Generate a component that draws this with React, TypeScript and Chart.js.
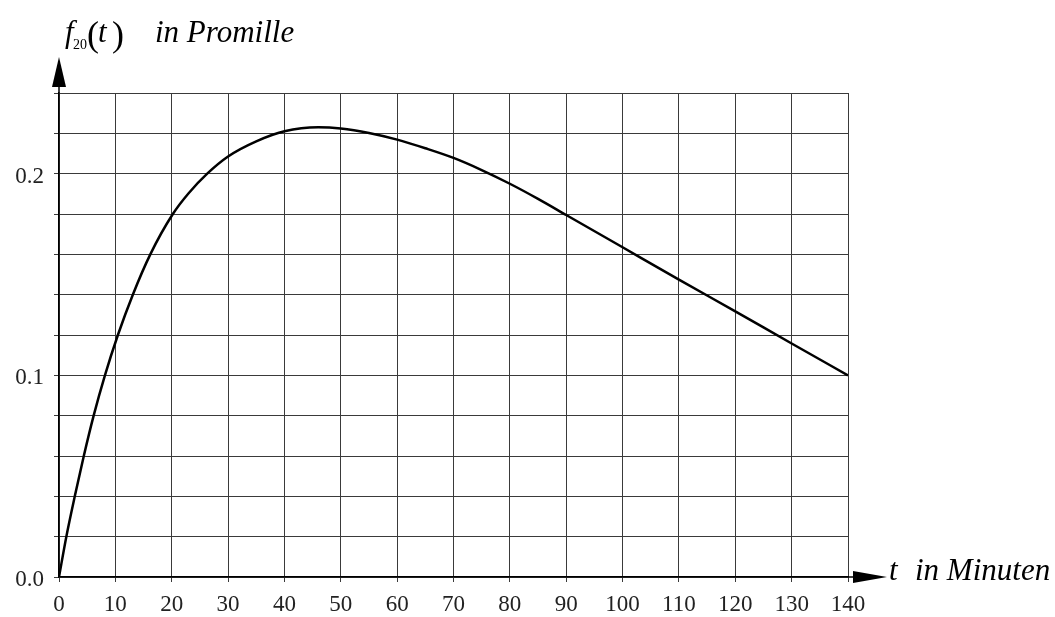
import React, { useEffect, useRef } from "react";
import { Chart, registerables } from "chart.js";

Chart.register(...registerables);

// Time in minutes
const tValues = [0, 1.3, 2.8, 4.4, 6.15, 8.15, 10.45, 13.1, 16.2, 20.2, 23, 26.3, 30, 35, 40, 46, 50, 55, 60, 65, 70, 75, 80, 85, 90, 100, 110, 120, 130, 140];
// f20(t) in Promille
const fValues = [0, 0.02, 0.04, 0.06, 0.08, 0.1, 0.12, 0.14, 0.16, 0.18, 0.1903, 0.2, 0.2085, 0.216, 0.221, 0.223, 0.2224, 0.2202, 0.2169, 0.2126, 0.2078, 0.2018, 0.195, 0.1875, 0.1795, 0.1635, 0.1475, 0.1317, 0.1158, 0.1];

const xTickLabels = [0, 10, 20, 30, 40, 50, 60, 70, 80, 90, 100, 110, 120, 130, 140];
const yTickLabels = [0, 0.1, 0.2];

const SERIF = "'Liberation Serif', 'DejaVu Serif', serif";

const axisDecor = {
  id: "axisDecor",
  afterDraw(chart: any) {
    const ctx = chart.ctx;
    const { chartArea, scales } = chart;
    const x0 = scales.x.getPixelForValue(0);
    const y0 = scales.y.getPixelForValue(0);
    ctx.save();
    ctx.fillStyle = "#000";
    ctx.strokeStyle = "#000";
    ctx.lineWidth = 1.5;
    // y arrow
    ctx.beginPath();
    ctx.moveTo(x0, chartArea.top);
    ctx.lineTo(x0, chartArea.top - 8);
    ctx.stroke();
    ctx.beginPath();
    ctx.moveTo(x0, chartArea.top - 36);
    ctx.lineTo(x0 - 7, chartArea.top - 6);
    ctx.lineTo(x0 + 7, chartArea.top - 6);
    ctx.closePath();
    ctx.fill();
    // x arrow
    ctx.beginPath();
    ctx.moveTo(chartArea.right, y0);
    ctx.lineTo(chartArea.right + 8, y0);
    ctx.stroke();
    ctx.beginPath();
    ctx.moveTo(chartArea.right + 39, y0);
    ctx.lineTo(chartArea.right + 5, y0 - 6);
    ctx.lineTo(chartArea.right + 5, y0 + 6);
    ctx.closePath();
    ctx.fill();

    // x axis title
    ctx.textBaseline = "alphabetic";
    ctx.textAlign = "left";
    ctx.font = `italic 31px ${SERIF}`;
    ctx.fillText("t", chartArea.right + 41, y0 + 3);
    ctx.fillText("in Minuten", chartArea.right + 67, y0 + 3);

    // y axis title: f20(t) in Promille
    const base = chartArea.top - 51;
    const lx = x0 + 6;
    ctx.font = `italic 31px ${SERIF}`;
    ctx.fillText("f", lx, base);
    ctx.font = `14px ${SERIF}`;
    ctx.fillText("20", lx + 8, base + 7);
    ctx.font = `36px ${SERIF}`;
    ctx.fillText("(", lx + 22, base + 4);
    ctx.font = `italic 31px ${SERIF}`;
    ctx.fillText("t", lx + 33, base);
    ctx.font = `36px ${SERIF}`;
    ctx.fillText(")", lx + 47, base + 4);
    ctx.font = `italic 31px ${SERIF}`;
    ctx.fillText("in Promille", lx + 90, base);
    ctx.restore();
  },
};

export default function App() {
  const canvasRef = useRef<HTMLCanvasElement | null>(null);

  useEffect(() => {
    if (!canvasRef.current) return;
    const data = tValues.map((t, i) => ({ x: t, y: fValues[i] }));
    const chart = new Chart(canvasRef.current, {
      type: "line",
      data: {
        datasets: [
          {
            data,
            borderColor: "#000",
            borderWidth: 2.5,
            pointRadius: 0,
            fill: false,
            cubicInterpolationMode: "monotone",
          },
        ],
      },
      options: {
        animation: false,
        responsive: false,
        devicePixelRatio: 1,
        layout: { padding: { left: 0, right: 207, top: 93, bottom: 0 } },
        plugins: { legend: { display: false }, tooltip: { enabled: false } },
        scales: {
          x: {
            type: "linear",
            min: 0,
            max: 140,
            afterFit: (s: any) => {
              s.height = 40;
            },
            afterBuildTicks: (s: any) => {
              s.ticks = xTickLabels.map((v) => ({ value: v }));
            },
            ticks: {
              stepSize: 10,
              autoSkip: false,
              maxRotation: 0,
              padding: 9,
              color: "#222",
              font: { family: SERIF, size: 23 },
              callback: (v: any) => String(v),
            },
            grid: { color: "#3a3a3a", lineWidth: 1, tickLength: 5, tickColor: "#3a3a3a" },
            border: { color: "#000", width: 1.5 },
          },
          y: {
            type: "linear",
            min: 0,
            max: 0.24,
            afterFit: (s: any) => {
              s.width = 59;
            },
            ticks: {
              stepSize: 0.02,
              autoSkip: false,
              padding: 10,
              labelOffset: 3,
              color: "#222",
              font: { family: SERIF, size: 23 },
              callback: (v: any) => {
                const hit = yTickLabels.find((l) => Math.abs(l - Number(v)) < 1e-6);
                return hit === undefined ? "" : hit.toFixed(1);
              },
            },
            grid: { color: "#3a3a3a", lineWidth: 1, tickLength: 5, tickColor: "#3a3a3a" },
            border: { color: "#000", width: 1.5 },
          },
        },
      },
      plugins: [axisDecor],
    });
    return () => chart.destroy();
  }, []);

  return (
    <div style={{ position: "fixed", left: 0, top: 0, width: 1055, height: 617, background: "#fff" }}>
      <canvas ref={canvasRef} width={1055} height={617} style={{ width: 1055, height: 617, display: "block" }} />
    </div>
  );
}
